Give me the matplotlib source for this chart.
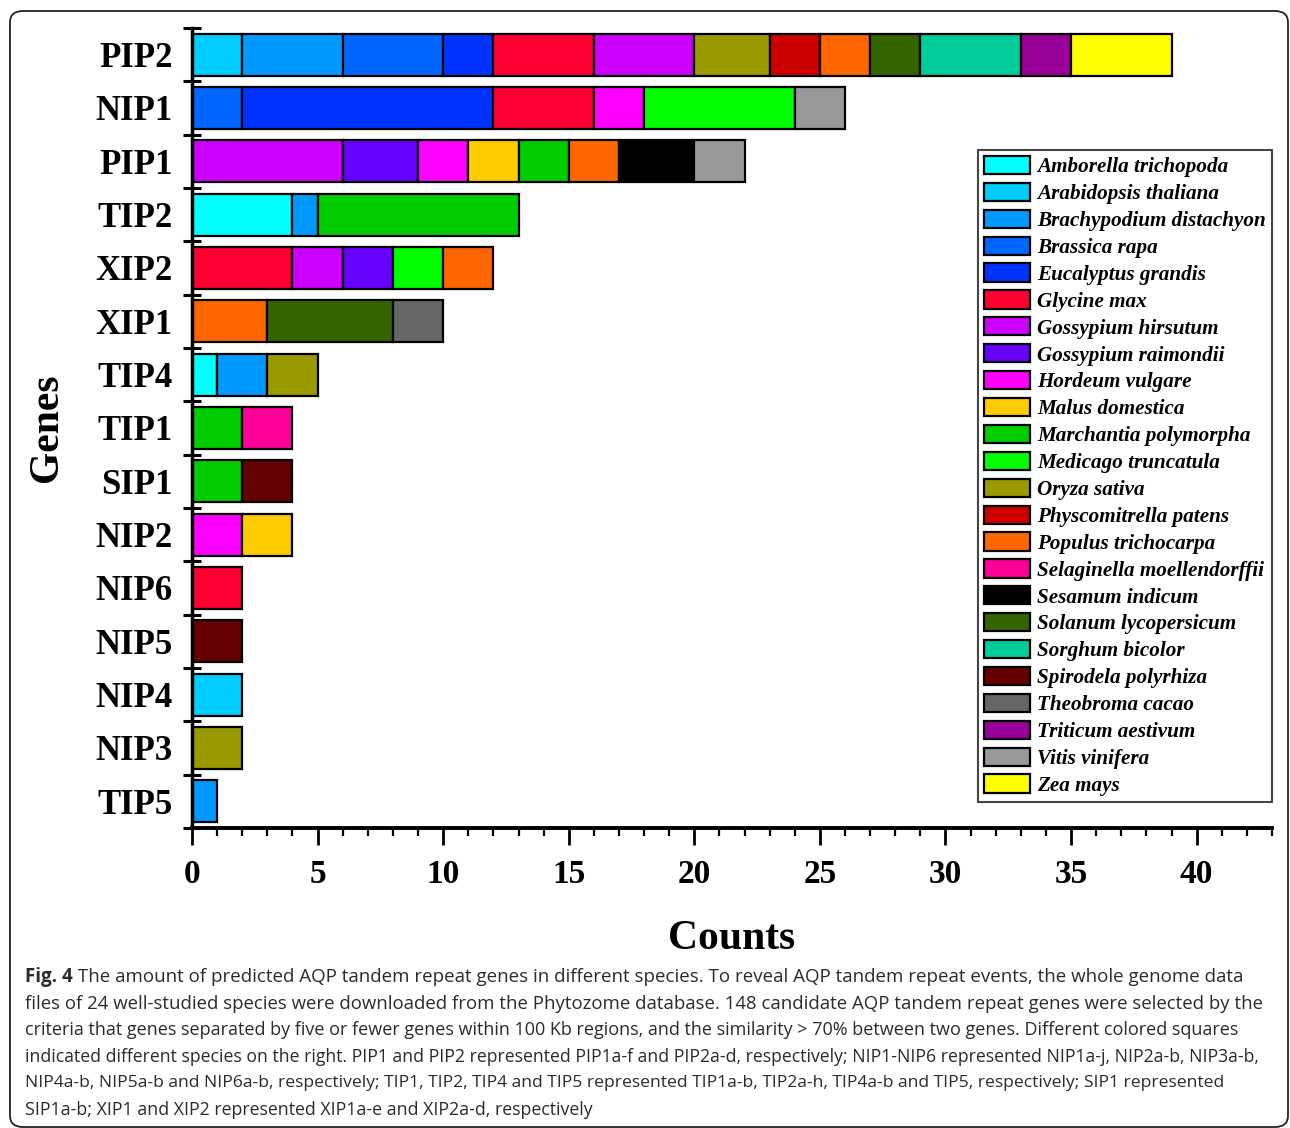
import matplotlib
matplotlib.use("Agg")
import matplotlib.pyplot as plt
from matplotlib.patches import Patch, FancyBboxPatch
import numpy as np

genes = ["PIP2", "NIP1", "PIP1", "TIP2", "XIP2", "XIP1", "TIP4", "TIP1",
         "SIP1", "NIP2", "NIP6", "NIP5", "NIP4", "NIP3", "TIP5"]

species = ["Amborella trichopoda", "Arabidopsis thaliana", "Brachypodium distachyon",
           "Brassica rapa", "Eucalyptus grandis", "Glycine max", "Gossypium hirsutum",
           "Gossypium raimondii", "Hordeum vulgare", "Malus domestica",
           "Marchantia polymorpha", "Medicago truncatula", "Oryza sativa",
           "Physcomitrella patens", "Populus trichocarpa", "Selaginella moellendorffii",
           "Sesamum indicum", "Solanum lycopersicum", "Sorghum bicolor",
           "Spirodela polyrhiza", "Theobroma cacao", "Triticum aestivum",
           "Vitis vinifera", "Zea mays"]

colors = ["#00FFFF", "#00CCFF", "#0099FF", "#0066FF", "#0033FF", "#FF0033", "#CC00FF",
          "#6600FF", "#FF00FF", "#FFCC00", "#00CC00", "#00FF00", "#999900", "#CC0000",
          "#FF6600", "#FF0099", "#000000", "#336600", "#00CC99", "#660000", "#666666",
          "#990099", "#999999", "#FFFF00"]

# counts per species, in gene order above
amborella    = [0, 0, 0, 4, 0, 0, 1, 0, 0, 0, 0, 0, 0, 0, 0]
arabidopsis  = [2, 0, 0, 0, 0, 0, 0, 0, 0, 0, 0, 0, 2, 0, 0]
brachypodium = [4, 0, 0, 1, 0, 0, 2, 0, 0, 0, 0, 0, 0, 0, 1]
brassica     = [4, 2, 0, 0, 0, 0, 0, 0, 0, 0, 0, 0, 0, 0, 0]
eucalyptus   = [2, 10, 0, 0, 0, 0, 0, 0, 0, 0, 0, 0, 0, 0, 0]
glycine      = [4, 4, 0, 0, 4, 0, 0, 0, 0, 0, 2, 0, 0, 0, 0]
g_hirsutum   = [4, 0, 6, 0, 2, 0, 0, 0, 0, 0, 0, 0, 0, 0, 0]
g_raimondii  = [0, 0, 3, 0, 2, 0, 0, 0, 0, 0, 0, 0, 0, 0, 0]
hordeum      = [0, 2, 2, 0, 0, 0, 0, 0, 0, 2, 0, 0, 0, 0, 0]
malus        = [0, 0, 2, 0, 0, 0, 0, 0, 0, 2, 0, 0, 0, 0, 0]
marchantia   = [0, 0, 2, 8, 0, 0, 0, 2, 2, 0, 0, 0, 0, 0, 0]
medicago     = [0, 6, 0, 0, 2, 0, 0, 0, 0, 0, 0, 0, 0, 0, 0]
oryza        = [3, 0, 0, 0, 0, 0, 2, 0, 0, 0, 0, 0, 0, 2, 0]
physcomitrella = [2, 0, 0, 0, 0, 0, 0, 0, 0, 0, 0, 0, 0, 0, 0]
populus      = [2, 0, 2, 0, 2, 3, 0, 0, 0, 0, 0, 0, 0, 0, 0]
selaginella  = [0, 0, 0, 0, 0, 0, 0, 2, 0, 0, 0, 0, 0, 0, 0]
sesamum      = [0, 0, 3, 0, 0, 0, 0, 0, 0, 0, 0, 0, 0, 0, 0]
solanum      = [2, 0, 0, 0, 0, 5, 0, 0, 0, 0, 0, 0, 0, 0, 0]
sorghum      = [4, 0, 0, 0, 0, 0, 0, 0, 0, 0, 0, 0, 0, 0, 0]
spirodela    = [0, 0, 0, 0, 0, 0, 0, 0, 2, 0, 0, 2, 0, 0, 0]
theobroma    = [0, 0, 0, 0, 0, 2, 0, 0, 0, 0, 0, 0, 0, 0, 0]
triticum     = [2, 0, 0, 0, 0, 0, 0, 0, 0, 0, 0, 0, 0, 0, 0]
vitis        = [0, 2, 2, 0, 0, 0, 0, 0, 0, 0, 0, 0, 0, 0, 0]
zea          = [4, 0, 0, 0, 0, 0, 0, 0, 0, 0, 0, 0, 0, 0, 0]

counts = [amborella, arabidopsis, brachypodium, brassica, eucalyptus, glycine,
          g_hirsutum, g_raimondii, hordeum, malus, marchantia, medicago, oryza,
          physcomitrella, populus, selaginella, sesamum, solanum, sorghum,
          spirodela, theobroma, triticum, vitis, zea]

xticks = [0, 5, 10, 15, 20, 25, 30, 35, 40]

caption_lines = [
    "The amount of predicted AQP tandem repeat genes in different species. To reveal AQP tandem repeat events, the whole genome data",
    "files of 24 well-studied species were downloaded from the Phytozome database. 148 candidate AQP tandem repeat genes were selected by the",
    "criteria that genes separated by five or fewer genes within 100 Kb regions, and the similarity > 70% between two genes. Different colored squares",
    "indicated different species on the right. PIP1 and PIP2 represented PIP1a-f and PIP2a-d, respectively; NIP1-NIP6 represented NIP1a-j, NIP2a-b, NIP3a-b,",
    "NIP4a-b, NIP5a-b and NIP6a-b, respectively; TIP1, TIP2, TIP4 and TIP5 represented TIP1a-b, TIP2a-h, TIP4a-b and TIP5, respectively; SIP1 represented",
    "SIP1a-b; XIP1 and XIP2 represented XIP1a-e and XIP2a-d, respectively",
]

W, H = 1290, 1128
fig = plt.figure(figsize=(W / 100, H / 100), dpi=100)
serif = "Liberation Serif"

# outer rounded frame
frame = FancyBboxPatch((10 / W, 1 - 1127 / H), (1288 - 10) / W, (1127 - 11) / H,
                       boxstyle="round,pad=0,rounding_size=0.01",
                       transform=fig.transFigure, facecolor="none",
                       edgecolor="#222222", linewidth=1.3)
fig.patches.append(frame)

ax = fig.add_axes([192 / W, 1 - 828 / H, (1272 - 192) / W, (828 - 28) / H])

ypos = np.arange(len(genes))
left = np.zeros(len(genes))
for sp, col, vals in zip(species, colors, counts):
    vals = np.array(vals, dtype=float)
    mask = vals > 0
    ax.barh(ypos[mask], vals[mask], left=left[mask], height=0.79, color=col,
            edgecolor="black", linewidth=1.6)
    left += vals

ax.set_xlim(0, 43)
ax.set_ylim(len(genes) - 0.5, -0.5)

for s in ["top", "right"]:
    ax.spines[s].set_visible(False)
ax.spines["left"].set_linewidth(2.5)
ax.spines["bottom"].set_linewidth(2.8)

ax.set_xticks(xticks)
ax.set_xticks(np.arange(0, 44, 1), minor=True)
ax.tick_params(axis="x", which="major", direction="out", length=12, width=2,
               labelsize=24, pad=10)
ax.tick_params(axis="x", which="minor", direction="out", length=5.5, width=1.6)
for lab in ax.get_xticklabels():
    lab.set_fontfamily(serif)
    lab.set_fontweight("bold")

ax.set_yticks(np.arange(-0.5, len(genes), 1))
ax.set_yticklabels([])
ax.set_yticks(ypos, minor=True)
ax.set_yticklabels(genes, minor=True, fontfamily=serif, fontweight="bold", fontsize=25)
ax.tick_params(axis="y", which="major", direction="inout", length=13, width=2.2)
ax.tick_params(axis="y", which="minor", length=0, pad=14)

ax.set_xlabel("Counts", fontfamily=serif, fontweight="bold", fontsize=30, labelpad=22)
ax.set_ylabel("Genes", fontfamily=serif, fontweight="bold", fontsize=30, labelpad=21)

handles = [Patch(facecolor=c, edgecolor="black", linewidth=1.6) for c in colors]
leg = ax.legend(handles, species, loc="upper left",
                bbox_to_anchor=(978 / W, 1 - 150 / H), bbox_transform=fig.transFigure,
                borderaxespad=0, borderpad=0.28, labelspacing=0.262, handlelength=2.2,
                handleheight=0.95, handletextpad=0.33, fancybox=False, framealpha=1,
                prop={"family": serif, "weight": "bold", "style": "italic", "size": 15.2})
leg.get_frame().set_edgecolor("#444444")
leg.get_frame().set_linewidth(1.5)

# caption (each line fitted to the width it has in the original)
cap_font = "Open Sans"
cap_color = "#2b2b2b"
base = 13.5
x0 = 25
y0 = 977
dy = 26.6
line_ends = [1245, 1263, 1237, 1252, 1223, 592]

t0 = fig.text(x0 / W, 1 - y0 / H, "Fig. 4", fontfamily=cap_font, fontweight="bold",
              fontsize=base, va="center", ha="left", color=cap_color)
t1 = ax.annotate(" " + caption_lines[0], xy=(1, 0.5), xycoords=t0, va="center", ha="left",
                 fontfamily=cap_font, fontsize=base, color=cap_color, annotation_clip=False)
others = []
for i, line in enumerate(caption_lines[1:], start=1):
    others.append(fig.text(x0 / W, 1 - (y0 + i * dy) / H, line, fontfamily=cap_font,
                           fontsize=base, va="center", ha="left", color=cap_color))

fig.canvas.draw()
r = fig.canvas.get_renderer()
w0 = t0.get_window_extent(r).width + t1.get_window_extent(r).width
s0 = base * (line_ends[0] - x0) / w0
t0.set_fontsize(s0)
t1.set_fontsize(s0)
for t, end in zip(others, line_ends[1:]):
    w = t.get_window_extent(r).width
    t.set_fontsize(base * (end - x0) / w)

fig.savefig("out.png", dpi=100)
